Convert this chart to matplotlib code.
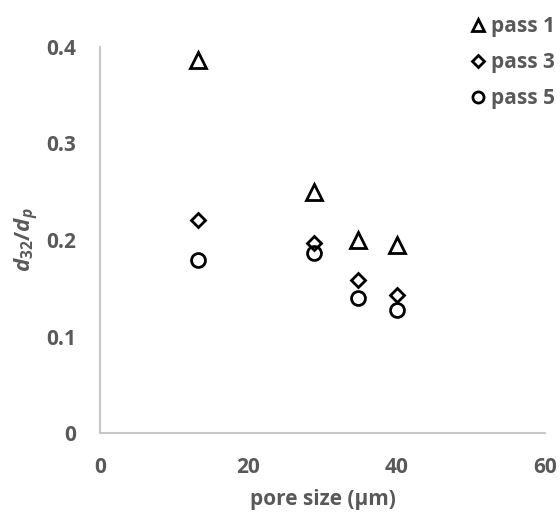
import matplotlib
matplotlib.use("Agg")
import matplotlib.pyplot as plt

# pore size (um) and d32/dp for each pass
pore_size = [13.2, 28.8, 34.8, 40.0]
pass1 = [0.386, 0.250, 0.200, 0.195]
pass3 = [0.221, 0.197, 0.159, 0.143]
pass5 = [0.179, 0.187, 0.140, 0.127]

series_labels = ["pass 1", "pass 3", "pass 5"]
x_ticks = [0, 20, 40, 60]
y_ticks = [0, 0.1, 0.2, 0.3, 0.4]

plt.rcParams["font.family"] = ["Open Sans", "DejaVu Sans"]
plt.rcParams["mathtext.fontset"] = "custom"
plt.rcParams["mathtext.it"] = "Open Sans:italic:bold"
plt.rcParams["mathtext.rm"] = "Open Sans:bold"
grey = "#595959"
fs = 15

fig = plt.figure(figsize=(5.6, 5.15), dpi=100)
ax = fig.add_axes([0.1786, 0.159, 0.7945, 0.75])

mk = dict(linestyle="none", markerfacecolor="none", markeredgecolor="black",
          markeredgewidth=2.0)
h1, = ax.plot(pore_size, pass1, marker="^", markersize=11, **mk)
h3, = ax.plot(pore_size, pass3, marker="D", markersize=7.5, **mk)
h5, = ax.plot(pore_size, pass5, marker="o", markersize=10, **mk)

ax.set_xlim(0, 60)
ax.set_ylim(0, 0.4)
ax.set_xticks(x_ticks)
ax.set_yticks(y_ticks)
ax.set_xticklabels([str(v) for v in x_ticks])
ax.set_yticklabels(["0", "0.1", "0.2", "0.3", "0.4"])
ax.tick_params(length=0, labelsize=fs, labelcolor=grey)
ax.tick_params(axis="y", pad=17)
ax.tick_params(axis="x", pad=17)
for lab in ax.get_xticklabels() + ax.get_yticklabels():
    lab.set_fontweight("bold")

for s in ["top", "right"]:
    ax.spines[s].set_visible(False)
for s in ["left", "bottom"]:
    ax.spines[s].set_color("#c8c8c8")
    ax.spines[s].set_linewidth(1.5)

ax.set_xlabel("pore size (\u00b5m)", fontsize=fs, fontweight="bold", color=grey, labelpad=8)
ax.set_ylabel(r"$d_{32}/d_{p}$", fontsize=16, color=grey, labelpad=4)

fig.legend([h1, h3, h5], series_labels, loc="upper right", bbox_to_anchor=(1.025, 1.005),
           frameon=False, labelcolor=grey, handlelength=0.6,
           handletextpad=0.35, labelspacing=0.72, prop={"weight": "bold", "size": fs},
           markerscale=0.8)

fig.savefig("out.png", dpi=100)
